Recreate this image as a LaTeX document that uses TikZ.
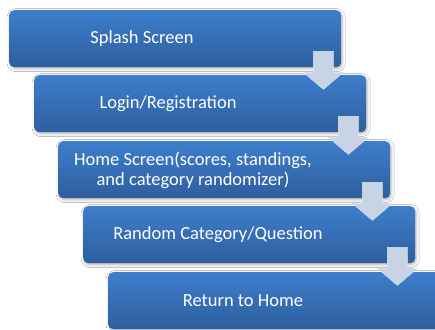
\documentclass[tikz,border=0pt]{standalone}
\usepackage{fontspec}
\setmainfont{Carlito}
\usetikzlibrary{shadows.blur,calc}
\definecolor{boxtop}{RGB}{62,126,204}
\definecolor{boxbot}{RGB}{46,94,158}
\definecolor{arrowfill}{RGB}{200,212,230}
\definecolor{arrowline}{RGB}{220,228,240}
\tikzset{
  stepbox/.style={rectangle, rounded corners=5pt, minimum width=332pt, minimum height=57pt,
    inner sep=0pt, top color=boxtop, bottom color=boxbot, draw=none,
    blur shadow={shadow xshift=1pt, shadow yshift=-1.5pt, shadow blur radius=3pt, shadow opacity=30}},
  steptext/.style={text=white, align=center, inner sep=0pt, font=\fontsize{18.5}{20}\selectfont},
  downarrow/.style={fill=arrowfill, draw=arrowline, line width=0.4pt}
}
\newcommand{\downarr}[2]{%
  \path[downarrow]
    ($(#1.south east)+(-28,-16)$) -- ($(#1.south east)+(-8,-16)$) --
    ($(#1.south east)+(-8,5)$) -- ($(#1.south east)+(2,5)$) --
    ($(#1.south east)+(-18,22)$) -- ($(#1.south east)+(-38,5)$) --
    ($(#1.south east)+(-28,5)$) -- cycle;}
\begin{document}
\begin{tikzpicture}[x=1pt,y=-1pt]
\useasboundingbox[fill=white] (0,0) rectangle (435,329);
\node[stepbox, anchor=north west] (b1) at (9,10) {};
\node[stepbox, anchor=north west] (b2) at (34,75) {};
\node[stepbox, anchor=north west] (b3) at (58,141) {};
\node[stepbox, anchor=north west] (b4) at (83,206) {};
\node[stepbox, anchor=north west] (b5) at (108,272) {};
\node[steptext] (t1) at ($(b1.west)+(133,0)$) {Splash Screen};
\node[steptext] (t2) at ($(b2.west)+(134,0)$) {Login/Registration};
\node[steptext] (t3) at ($(b3.west)+(135,1)$) {Home Screen(scores, standings,\\and category randomizer)};
\node[steptext] (t4) at ($(b4.west)+(135,0)$) {Random Category/Question};
\node[steptext] (t5) at ($(b5.west)+(135,0)$) {Return to Home};
\downarr{b1}{b2}
\downarr{b2}{b3}
\downarr{b3}{b4}
\downarr{b4}{b5}
\end{tikzpicture}
\end{document}
